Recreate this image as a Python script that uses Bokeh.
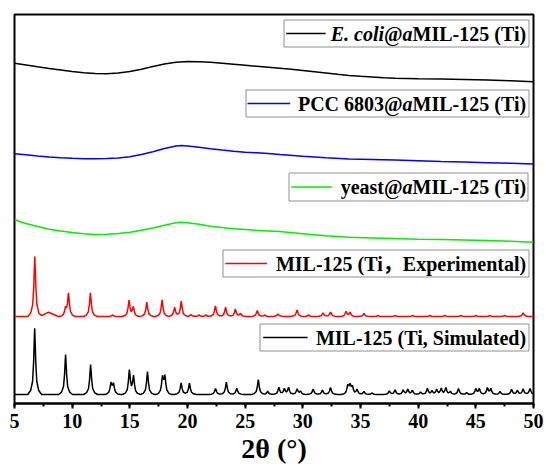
import numpy as np
from bokeh.plotting import figure
from bokeh.models import Range1d, SingleIntervalTicker, Label
from bokeh.embed import file_html
from bokeh.resources import INLINE

# ---------------- data ----------------
# amorphous samples: 2theta (deg) and stacked intensity (a.u.)
ecoli_x = [5, 6, 7, 8, 9, 10, 11, 12, 13, 14, 15, 16, 17, 18, 19, 20, 21, 22, 23, 24, 25, 26, 27,
           28, 29, 30, 31, 32, 33, 34, 35, 36, 37, 38, 40, 42, 44, 46, 48, 50]
ecoli_y = [340.3, 338.5, 336.7, 335, 333.5, 332, 330.7, 330, 329.8, 330.5, 332, 334.2, 337, 339.5,
           341.2, 342, 341.8, 341.2, 340.2, 339.2, 338.2, 337.2, 336.2, 335.2, 334.2, 333, 331.8,
           330.5, 329.2, 328, 327.2, 326.5, 325.8, 325.3, 324.7, 324.5, 324, 323.5, 322.7, 321.7]

pcc_x = [5, 6, 7, 8, 9, 10, 11, 12, 13, 14, 15, 16, 17, 18, 19, 19.5, 20, 21, 22, 23, 24, 25, 26,
         27, 28, 30, 32, 34, 36, 38, 40, 42, 44, 46, 48, 50]
pcc_y = [249.7, 248.7, 247.6, 246.6, 245.8, 245.2, 244.8, 244.7, 244.9, 245.6, 246.8, 249, 251.8,
         255, 257.5, 258, 257.5, 256.2, 254.7, 253.4, 252.2, 251.2, 250.7, 250, 249, 247.2, 245.7,
         244.5, 244, 243.4, 242.7, 242, 241.4, 240.8, 240.2, 239.5]

yeast_x = [5, 5.5, 6, 7, 8, 9, 10, 11, 12, 13, 14, 15, 16, 17, 18, 19, 19.5, 20, 21, 22, 23, 24,
           25, 26, 27, 28, 30, 32, 34, 36, 38, 40, 42, 44, 46, 48, 50]
yeast_y = [184, 181.7, 180, 177, 174.3, 172.5, 171, 169.8, 169, 169.2, 170, 171.3, 173.2, 175.5,
           178.2, 180.8, 181.3, 180.8, 179.2, 177.3, 176, 174.8, 173.9, 173.2, 172.6, 171.9, 169.8,
           167.7, 166.3, 165.6, 164.9, 164.3, 163.9, 163.5, 162.9, 162.2, 161.3]

# MIL-125 experimental: baseline, broad background and Bragg peaks
exp_base = 87
exp_bg_x = [5, 7.2, 7.95, 8.8, 50]
exp_bg_y = [0, 0, 4.3, 0, 0]
exp_pos = [6.76, 9.42, 9.68, 11.58, 13.5, 14.93, 15.3, 16.47, 17.8, 18.88, 19.46, 20.3, 21.0,
           21.6, 22.42, 23.3, 24.15, 24.6, 26.05, 26.7, 27.85, 29.5, 30.5, 31.75, 32.4, 33.75,
           34.1, 35.3, 36.5, 38.0, 39.5, 41.0, 42.3, 43.7, 45.0, 46.2, 47.5, 49.1]
exp_int = [60, 7, 22.7, 23.7, 1.5, 16, 9.3, 14.3, 16.7, 9.3, 15.3, 2, 1.5,
           1.5, 10.7, 9.3, 7.3, 3, 6, 1.5, 2.5, 6.5, 1.5, 3.5, 4.5, 5,
           4, 3, 1, 1, 1, 1, 1, 1, 1, 1, 1, 3.5]

# MIL-125 simulated: baseline and Bragg peaks
sim_base = 9
sim_pos = [6.75, 9.43, 11.6, 13.37, 13.58, 14.96, 15.32, 16.53, 17.83, 18.04, 19.45, 20.17,
           22.43, 23.37, 24.27, 26.14, 26.95, 27.92, 28.4, 28.76, 29.5, 29.8, 30.9, 31.7,
           32.4, 33.9, 34.1, 34.3, 34.7, 35.3, 36.0, 37.5, 38.0, 38.7, 39.1, 39.5, 40.2,
           40.8, 41.2, 41.6, 42.0, 42.4, 42.8, 43.5, 44.2, 45.0, 45.3, 46.0, 46.3, 47.1,
           48.1, 48.6, 49.1, 49.7]
sim_int = [66.3, 40, 30, 10.7, 10, 24, 18, 23, 16.3, 17, 11.7, 11.3,
           6, 12.3, 6.3, 15, 3.3, 7, 5.5, 7, 5.5, 3, 5.5, 4.5,
           7, 8.5, 8.5, 7, 5, 3, 1.5, 3.5, 4.5, 4.5, 5, 4, 2.5,
           6, 3.5, 5, 6, 6.5, 3, 6, 2, 5.5, 5.5, 6.5, 5.5, 3,
           5, 4, 5.5, 6]

series_names = ["E. coli@aMIL-125 (Ti)", "PCC 6803@aMIL-125 (Ti)", "yeast@aMIL-125 (Ti)",
                "MIL-125 (Ti\uff0cExperimental)", "MIL-125 (Ti, Simulated)"]
x_ticks_step = 5

# ---------------- rendering helpers ----------------
PEAK_D = [0.0, 0.04, 0.09, 0.18, 0.35, 0.6]     # peak shape (style): offset in deg
PEAK_F = [1.0, 0.8, 0.5, 0.2, 0.06, 0.0]        # relative height at that offset


def pattern(pos, inten, base, bg_x=None, bg_y=None):
    knots = [5.0, 50.0]
    for p_ in pos:
        for d in PEAK_D:
            knots += [p_ - d, p_ + d]
    if bg_x is not None:
        knots += list(bg_x)
    xs = np.array(sorted(k for k in set(knots) if 5.0 <= k <= 50.0))
    ys = np.full(xs.shape, float(base))
    if bg_x is not None:
        ys += np.interp(xs, bg_x, bg_y)
    for p_, h in zip(pos, inten):
        ys += h * np.interp(np.abs(xs - p_), PEAK_D, PEAK_F, right=0.0)
    return xs, ys


FONT = "Liberation Serif"
p = figure(frame_width=519, frame_height=389, output_backend="svg", toolbar_location=None,
           x_range=Range1d(5, 50), y_range=Range1d(0, 389), y_axis_location=None,
           min_border_left=14, min_border_right=13, min_border_top=14, min_border_bottom=0)
p.xgrid.visible = False
p.ygrid.visible = False
p.outline_line_color = "black"
p.outline_line_width = 2
p.background_fill_color = "white"
p.border_fill_color = "white"

ax = p.xaxis[0]
ax.ticker = SingleIntervalTicker(interval=x_ticks_step, num_minor_ticks=2)
ax.axis_line_width = 2
ax.major_tick_line_width = 2
ax.minor_tick_line_width = 2
ax.major_tick_in = 0
ax.major_tick_out = 5
ax.minor_tick_in = 0
ax.minor_tick_out = 3
ax.major_label_standoff = 5
ax.major_label_text_font = FONT
ax.major_label_text_font_style = "bold"
ax.major_label_text_font_size = "20px"
ax.major_label_text_color = "black"
ax.axis_label = "2θ (°)"
ax.axis_label_text_font = FONT
ax.axis_label_text_font_style = "bold"
ax.axis_label_text_font_size = "28px"
ax.axis_label_text_color = "black"
ax.axis_label_standoff = 2

LW = 1.5
GREEN = "#00ee00"
p.line(ecoli_x, ecoli_y, line_color="black", line_width=LW)
p.line(pcc_x, pcc_y, line_color="#0000ff", line_width=LW)
p.line(yeast_x, yeast_y, line_color=GREEN, line_width=LW)
ex, ey = pattern(exp_pos, exp_int, exp_base, exp_bg_x, exp_bg_y)
p.line(ex, ey, line_color="#ff0000", line_width=LW)
sx, sy = pattern(sim_pos, sim_int, sim_base)
p.line(sx, sy, line_color="black", line_width=LW)

# ---------------- legends (layout in reference pixels) ----------------
LEFT, TOP, FW, FH = 14.0, 14.0, 519.0, 389.0


def fx(px):
    return 5 + (px - LEFT) / FW * 45


def fy(py):
    return (TOP + FH - py) / FH * 389


BOLD = {' ': 250, '(': 333, ')': 333, '-': 333, ',': 250, '.': 250, '@': 930,
        'A': 722, 'C': 722, 'E': 667, 'I': 389, 'L': 667, 'M': 944, 'P': 611, 'S': 556, 'T': 667,
        'a': 500, 'c': 444, 'd': 556, 'e': 444, 'i': 278, 'l': 278, 'm': 833, 'n': 556, 'o': 500,
        'p': 556, 'r': 444, 's': 389, 't': 333, 'u': 556, 'x': 500, 'y': 500, '\uff0c': 1000}
BOLDIT = {'E': 667, '.': 250, ' ': 250, 'c': 444, 'o': 500, 'l': 278, 'i': 278, 'a': 500, '@': 832}
for d in "0123456789":
    BOLD[d] = 500


def text_w(s, style, fs):
    tbl = BOLDIT if "italic" in style else BOLD
    return sum(tbl.get(ch, 500) for ch in s) * fs / 1000.0


FS = 20
R_TEXT = 526
legends = [
    ((283.5, 19.5, 528.5, 46.5), (285.6, 325.1), "black",
     [(series_names[0][:7], "bold italic"), ("@", "bold"), ("a", "bold italic"), (series_names[0][9:], "bold")]),
    ((245.5, 89.5, 528.5, 116.5), (247.0, 289.7), "#0000ff",
     [(series_names[1][:8], "bold"), ("@", "bold"), ("a", "bold italic"), (series_names[1][10:], "bold")]),
    ((288.5, 172.5, 527.5, 200.5), (290.8, 331.4), GREEN,
     [(series_names[2][:5], "bold"), ("@", "bold"), ("a", "bold italic"), (series_names[2][7:], "bold")]),
    ((222.5, 249.5, 528.5, 276.5), (224.9, 266.5), "#ff0000",
     [(series_names[3], "bold")]),
    ((259.5, 323.5, 528.5, 350.5), (262.7, 307.0), "black",
     [(series_names[4], "bold")]),
]

for (bl, bt, br, bb), (l0, l1), col, segs in legends:
    p.quad(left=[fx(bl)], right=[fx(br)], top=[fy(bt)], bottom=[fy(bb)],
           fill_color="white", fill_alpha=1.0, line_color="#8f8f8f", line_width=1)
    cy = (bt + bb) / 2
    p.line([fx(l0), fx(l1)], [fy(cy), fy(cy)], line_color=col, line_width=LW)
    xr = R_TEXT
    for s, st in reversed(segs):
        w = text_w(s, st, FS)
        xr -= w
        p.add_layout(Label(x=fx(xr), y=fy(cy), text=s,
                           text_font="'Liberation Serif', 'Noto Sans CJK SC'",
                           text_font_style=st, text_font_size=f"{FS}px", text_color="black",
                           text_align="left", text_baseline="middle"))

open("out.html", "w").write(file_html(p, INLINE))
